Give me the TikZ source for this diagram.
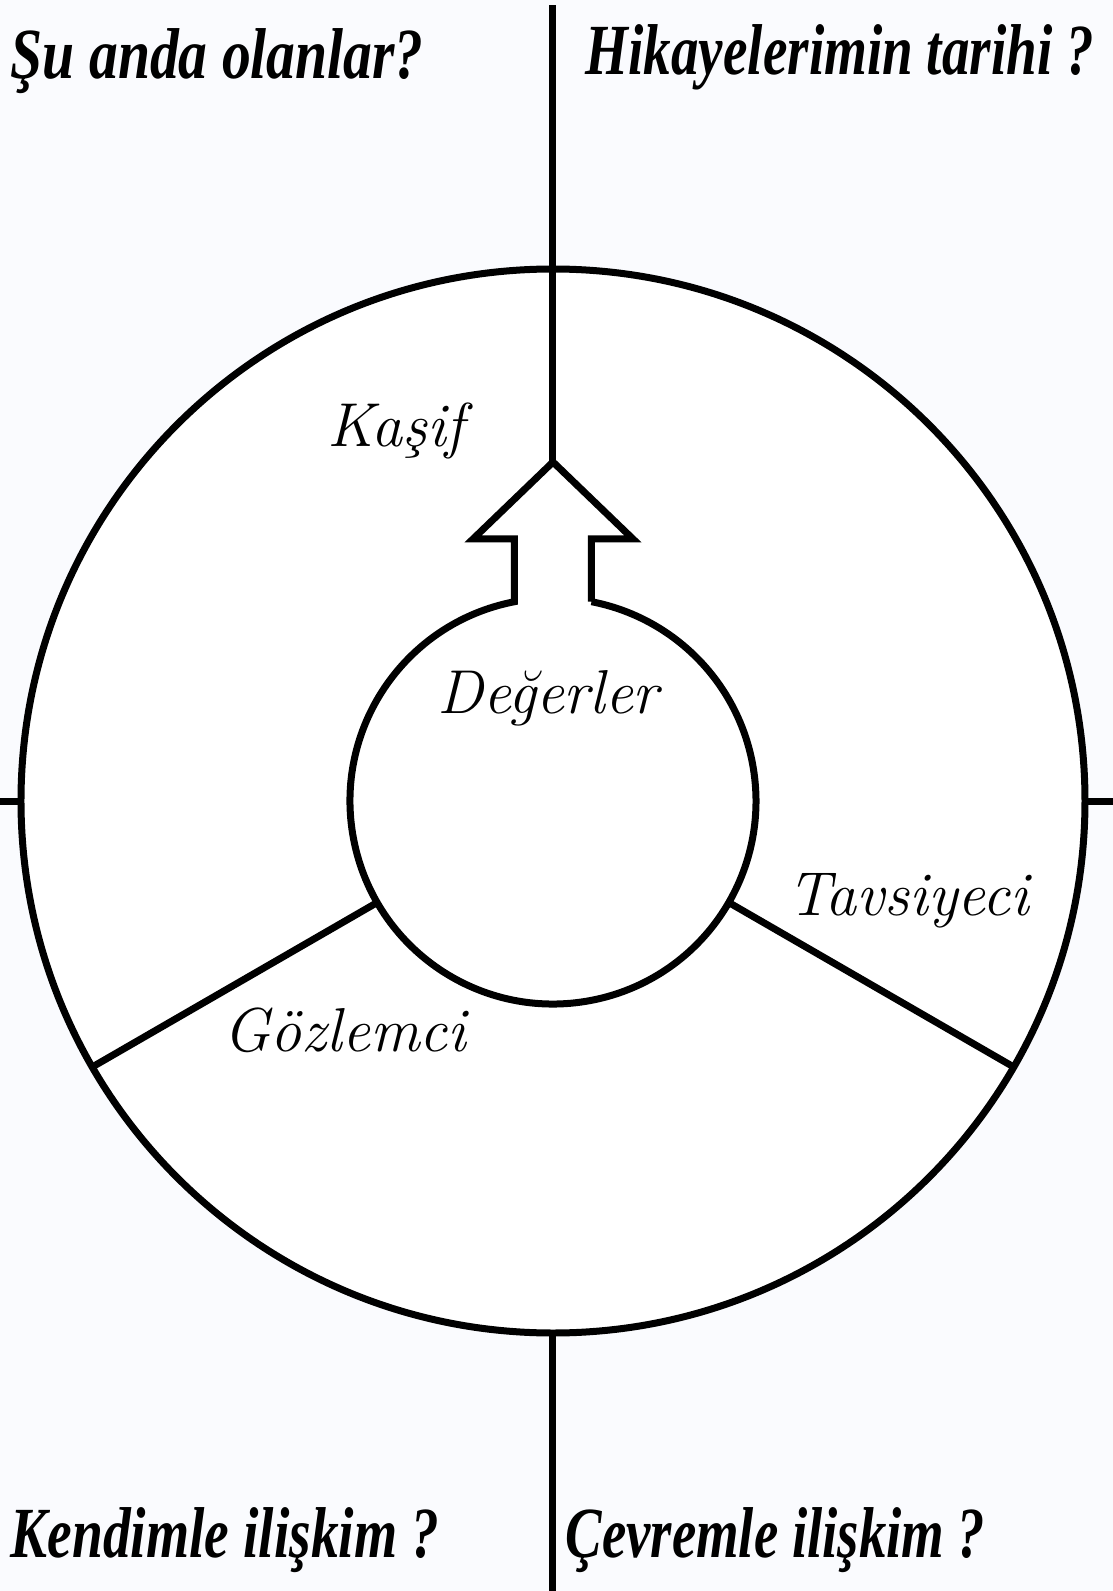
\documentclass[tikz,border=0pt]{standalone}
\usepackage{fontspec}
\newfontfamily\sorufont{Liberation Serif}
\definecolor{kagit}{RGB}{250,251,254}
\begin{document}
\begin{tikzpicture}[x=0.5pt,y=0.5pt,line width=3.5pt,
	soru/.style={font=\fontsize{36}{36}\sorufont\bfseries\itshape,anchor=base west,inner sep=0pt,xscale=#1,transform shape},
	soru/.default=0.8,
	rol/.style={font=\fontsize{31}{31}\selectfont\itshape}]
	\fill[kagit] (-553,-790) rectangle (560,801);
	\useasboundingbox (-553,-790) rectangle (560,801);
	% dis daire ve eksenler
	\draw[fill=white] (0,0) circle (532);
	\draw (0,339) -- (0,796);
	\draw (0,-532) -- (0,-790);
	\draw (-553,0) -- (-532,0);
	\draw (532,0) -- (560,0);
	% ic daire ve ok
	\draw[line join=miter] (38.5,199.3) -- (38.5,262) -- (80,262) -- (0,339) -- (-80,262) -- (-38.5,262) -- (-38.5,199.3)
		arc[start angle=100.93, end angle=439.07, radius=203];
	\draw (210:203) -- (210:532);
	\draw (330:203) -- (330:532);
	% yazilar
	\node[rol] (kasif) at (-157,370) {Kaşif};
	\node[rol] (degerler) at (-5,103) {Değerler};
	\node[rol] (tavsiyeci) at (355,-100) {Tavsiyeci};
	\node[rol] (gozlemci) at (-208,-229) {Gözlemci};
	\node[soru] (simdi) at (-545,722) {Şu anda olanlar?};
	\node[soru=0.765] (tarih) at (30,726) {Hikayelerimin tarihi ?};
	\node[soru=0.77] (kendim) at (-545,-756) {Kendimle ilişkim ?};
	\node[soru=0.76] (cevrem) at (10,-756) {Çevremle ilişkim ?};
\end{tikzpicture}
\end{document}
